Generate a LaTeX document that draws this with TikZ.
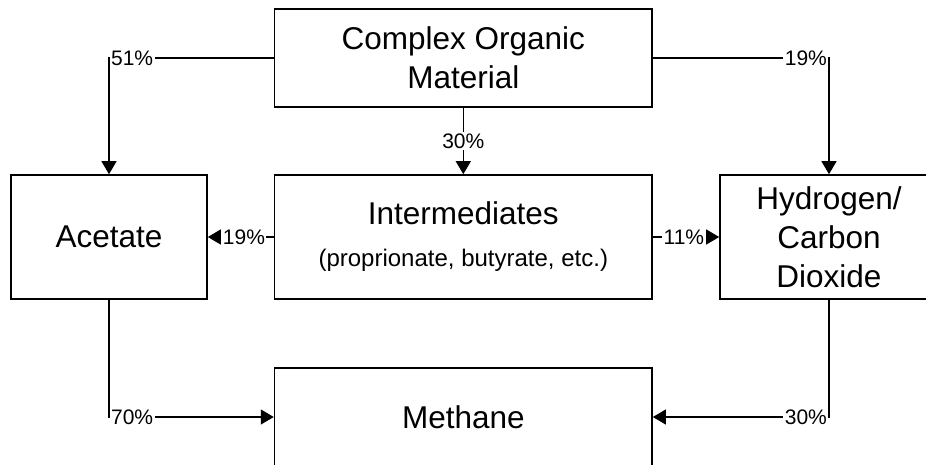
\documentclass[tikz,border=0pt]{standalone}
\usepackage{fontspec}
\setmainfont{Liberation Sans}
\usetikzlibrary{arrows.meta}

\begin{document}
\begin{tikzpicture}[x=1pt,y=-1pt,
    stage/.style={draw,line width=1.6pt,inner sep=0pt,align=center,
        font=\fontsize{31.5}{39}\selectfont},
    flow/.style={line width=1.2pt,-{Triangle[length=13pt,width=15pt]}},
    pct/.style={fill=white,inner sep=1.5pt,font=\fontsize{21}{24}\selectfont}]
    \useasboundingbox (0,0) rectangle (926,464);

    % Stages
    \node[stage,minimum width=377.5pt,minimum height=98pt] (com) at (463.3,58) {Complex Organic\\Material};
    \node[stage,minimum width=196pt,minimum height=124pt] (ace) at (109,237) {Acetate};
    \node[stage,minimum width=377.5pt,minimum height=124pt] (int) at (463.3,237)
        {Intermediates\\[3pt]{\fontsize{24}{28}\selectfont (proprionate, butyrate, etc.)}};
    \node[stage,minimum width=218pt,minimum height=124pt] (hyd) at (829,237) {Hydrogen/\\Carbon\\Dioxide};
    \node[stage,minimum width=377.5pt,minimum height=98pt] (met) at (463.3,417) {Methane};

    % Flows with shares
    \draw[flow] (com.west) -| node[pos=0.5,anchor=west,pct] {51\%} (ace.north);
    \draw[flow] (com.east) -| node[pos=0.5,anchor=east,pct] {19\%} (hyd.north);
    \draw[flow] (com.south) -- node[pct] {30\%} (int.north);
    \draw[flow] (int.west) -- node[pos=1,anchor=west,xshift=13pt,pct] {19\%} (ace.east);
    \draw[flow] (int.east) -- node[pos=1,anchor=east,xshift=-13pt,pct] {11\%} (hyd.west);
    \draw[flow] (ace.south) |- node[pos=0.5,anchor=west,pct] {70\%} (met.west);
    \draw[flow] (hyd.south) |- node[pos=0.5,anchor=east,pct] {30\%} (met.east);
\end{tikzpicture}
\end{document}
